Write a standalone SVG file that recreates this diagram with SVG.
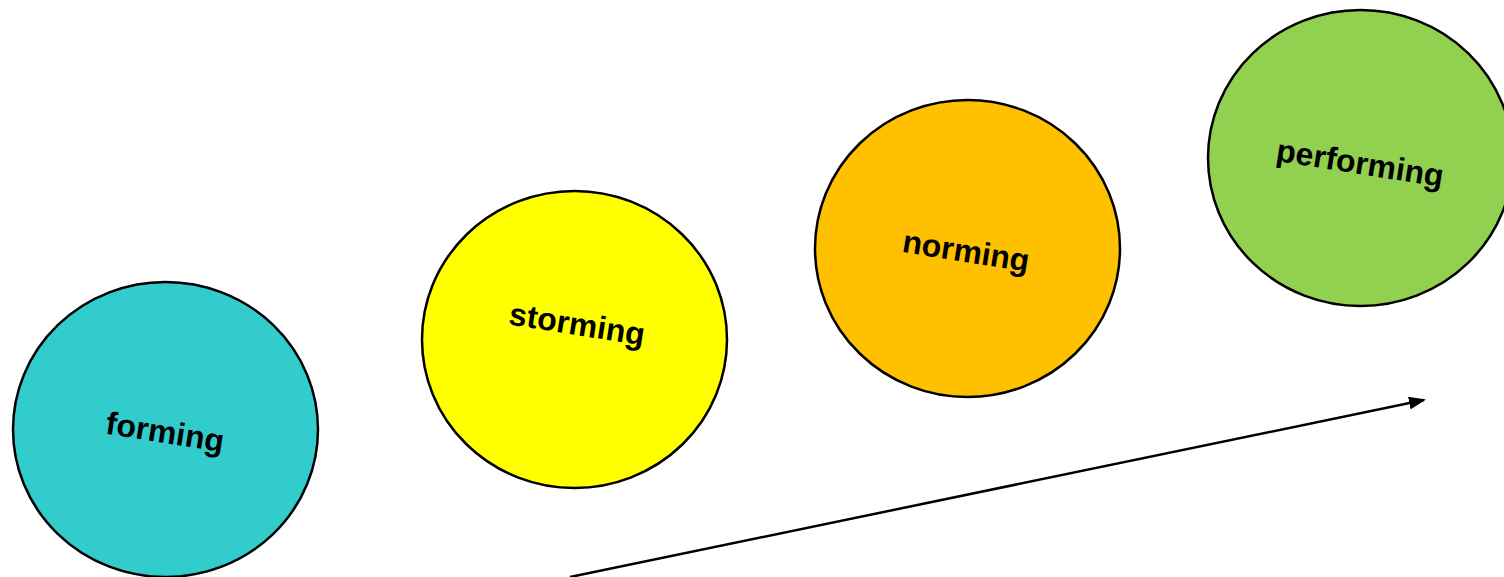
<svg xmlns="http://www.w3.org/2000/svg" width="1504" height="577" viewBox="0 0 1504 577">
  <style>
    .stage { stroke: #000; stroke-width: 2.5; }
    .label { font-family: "Liberation Sans", Arial, sans-serif; font-weight: bold; font-size: 32px; fill: #000; text-anchor: middle; }
    .flow { stroke: #000; stroke-width: 2.5; fill: none; }
  </style>
  <defs>
    <marker id="arrowhead" viewBox="0 0 17 13" refX="15" refY="6.5" markerWidth="17" markerHeight="13" orient="auto" markerUnits="userSpaceOnUse">
      <path d="M0,0 L17,6.5 L0,13 Z" fill="#000"/>
    </marker>
  </defs>
  <rect width="1504" height="577" fill="#fff"/>

  <g id="connectors">
    <line class="flow" x1="570" y1="577" x2="1424" y2="400" marker-end="url(#arrowhead)"/>
  </g>

  <g id="forming">
    <ellipse class="stage" cx="165.5" cy="429.5" rx="152.5" ry="147.5" fill="#33CCCC"/>
    <text class="label" transform="translate(165,433) rotate(9)" y="10">forming</text>
  </g>

  <g id="storming">
    <ellipse class="stage" cx="574.5" cy="339.5" rx="152.5" ry="148.5" fill="#FFFF00"/>
    <text class="label" transform="translate(577,325) rotate(9)" y="10">storming</text>
  </g>

  <g id="norming">
    <ellipse class="stage" cx="967.5" cy="248.5" rx="152.5" ry="148.5" fill="#FFC000"/>
    <text class="label" transform="translate(966,252) rotate(9)" y="10">norming</text>
  </g>

  <g id="performing">
    <ellipse class="stage" cx="1360.5" cy="158" rx="152.5" ry="148" fill="#92D050"/>
    <text class="label" transform="translate(1360,164) rotate(9)" y="10">performing</text>
  </g>
</svg>
